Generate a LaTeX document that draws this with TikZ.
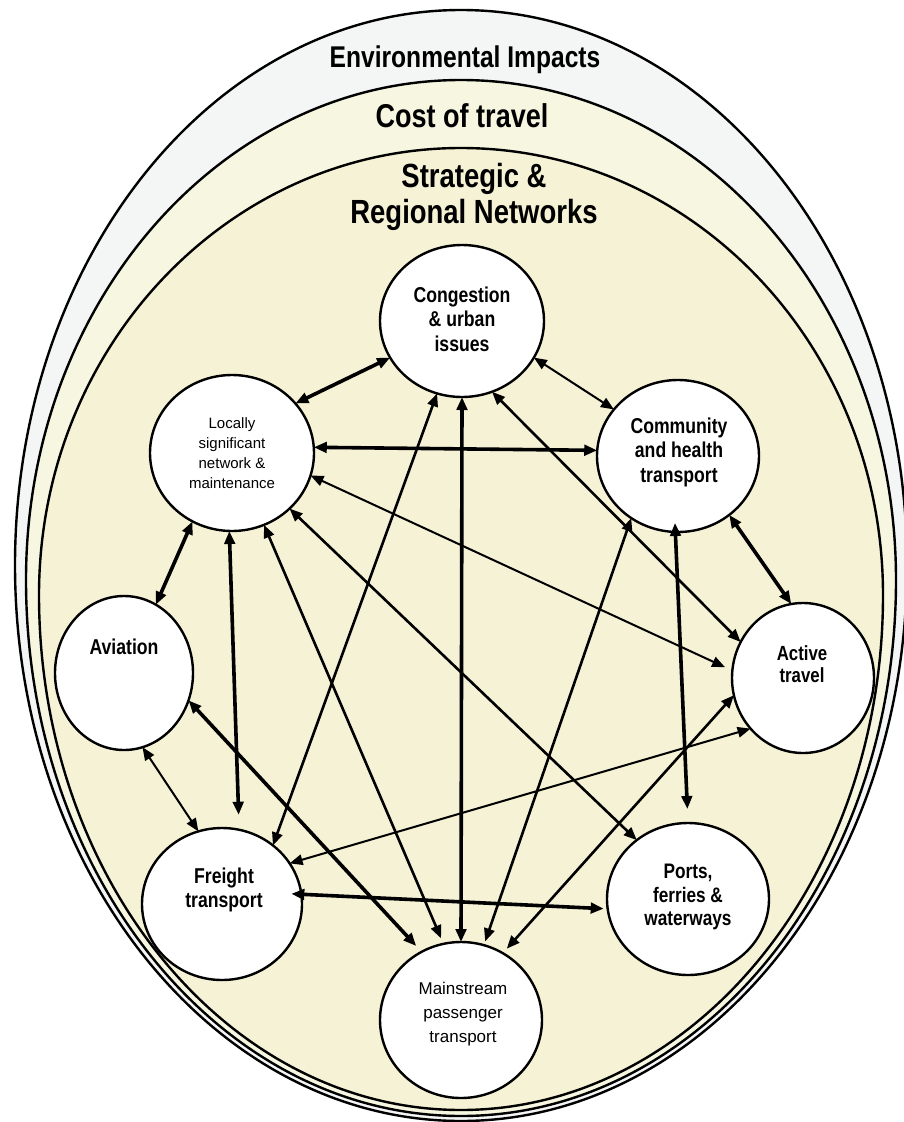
\documentclass[tikz,border=0pt]{standalone}
\usepackage{fontspec}
\setmainfont{Liberation Sans}
\newfontfamily\nar[FakeStretch=0.82]{Liberation Sans}
\usetikzlibrary{shapes.geometric,arrows.meta}
\definecolor{envc}{HTML}{F3F6F4}
\definecolor{costc}{HTML}{F7F6E0}
\definecolor{stratc}{HTML}{F5F2D5}
\tikzset{
  eggline/.style={draw=black, line width=2.4pt},
  bub/.style={ellipse, draw=black, line width=2.4pt, fill=white, inner sep=0pt, outer sep=0pt},
  lbl/.style={align=center, inner sep=0pt, font=\nar\bfseries\fontsize{21.5}{24.5}\selectfont},
  lblreg/.style={align=center, inner sep=0pt},
  title/.style={inner sep=0pt, align=center},
  conn/.style={{Triangle[length=13pt,width=10.5pt]}-{Triangle[length=13pt,width=10.5pt]}, line width=2.6pt},
  thk/.style={conn, line width=3.6pt},
  thn/.style={conn, line width=2pt},
}
\begin{document}
\begin{tikzpicture}[x=1pt, y=-1pt]
\fill[white] (0,0) rectangle (904,1122);
\useasboundingbox (0,0) rectangle (904,1122);
% nested egg shapes
\path[eggline, fill=envc] (15,565) arc[start angle=180, end angle=360, x radius=446, y radius=555]
  arc[start angle=0, end angle=180, x radius=446, y radius=556] -- cycle;
\path[eggline, fill=costc] (26,580) arc[start angle=180, end angle=360, x radius=435, y radius=500]
  arc[start angle=0, end angle=180, x radius=435, y radius=536] -- cycle;
\path[eggline, fill=stratc] (39,595) arc[start angle=180, end angle=360, x radius=422, y radius=447]
  arc[start angle=0, end angle=180, x radius=422, y radius=515] -- cycle;
% titles
\node[title, anchor=base, font=\nar\bfseries\fontsize{30}{36}\selectfont] (env) at (465,67) {Environmental Impacts};
\node[title, anchor=base, font=\nar\bfseries\fontsize{33}{37}\selectfont] (cost) at (462,127) {Cost of travel};
\node[title, anchor=base, font=\nar\bfseries\fontsize{33.5}{37}\selectfont] (strat1) at (474,187) {Strategic \&};
\node[title, anchor=base, font=\nar\bfseries\fontsize{33.5}{37}\selectfont] (strat2) at (474,223) {Regional Networks};
% circles
\node[bub, minimum width=164pt, minimum height=152pt] (cong) at (462,321) {};
\node[bub, minimum width=164pt, minimum height=156pt] (loc) at (232,453) {};
\node[bub, minimum width=162pt, minimum height=152pt] (comm) at (678,456) {};
\node[bub, minimum width=138pt, minimum height=154pt] (avi) at (124,673) {};
\node[bub, minimum width=142pt, minimum height=150pt] (act) at (803,678) {};
\node[bub, minimum width=160pt, minimum height=152pt] (frt) at (222,904) {};
\node[bub, minimum width=162pt, minimum height=152pt] (port) at (688,899) {};
\node[bub, minimum width=162pt, minimum height=156pt] (main) at (461,1020) {};
% circle texts
\node[lbl] (congt) at (462,319) {Congestion\\\& urban\\issues};
\node[lblreg, font=\fontsize{15}{20}\selectfont] (loct) at (232,453) {Locally\\significant\\network \&\\maintenance};
\node[lbl] (commt) at (679,452) {Community\\and health\\transport};
\node[lbl] (avit) at (124,647) {Aviation};
\node[lbl, font=\nar\bfseries\fontsize{20.5}{22.5}\selectfont] (actt) at (802,664) {Active\\travel};
\node[lbl] (frtt) at (224,890) {Freight\\transport};
\node[lbl, font=\nar\bfseries\fontsize{21}{23.5}\selectfont] (portt) at (688,897) {Ports,\\ferries \&\\waterways};
\node[lblreg, font=\fontsize{17}{24}\selectfont] (maint) at (463,1014) {Mainstream\\passenger\\transport};
% connectors
\draw[thk] (cong.207.5) -- (loc.38);
\draw[thn] (cong.-27) -- (comm.144);
\draw[thk] (loc.4) -- (comm.176);
\draw[conn] (cong.251) -- (frt.49);
\draw[thk] (cong.270) -- (main.90);
\draw[conn] (cong.293) -- (act.150);
\draw[thk] (loc.240) -- (avi.65);
\draw[thk, shorten >=15pt] (loc.268) -- (frt.77);
\draw[conn, shorten >=6pt] (loc.-66) -- (main.103);
\draw[thn, shorten >=8pt] (loc.-16) -- (act.174);
\draw[conn] (loc.-44) -- (port.131);
\draw[thn] (avi.-76) -- (frt.108);
\draw[thk, shorten >=8pt] (avi.-23.5) -- (main.120);
\draw[thn] (frt.31) -- (act.224.5);
\draw[thk, shorten <=-10pt, shorten >=4pt] (frt.7.5) -- (port.187);
\draw[conn, shorten >=4pt] (comm.233) -- (main.73);
\draw[thk, shorten <=-9pt, shorten >=14pt] (comm.268) -- (port.90);
\draw[thk] (comm.-49) -- (act.99.5);
\draw[conn, shorten >=6pt] (act.194) -- (main.58.6);
\end{tikzpicture}
\end{document}
